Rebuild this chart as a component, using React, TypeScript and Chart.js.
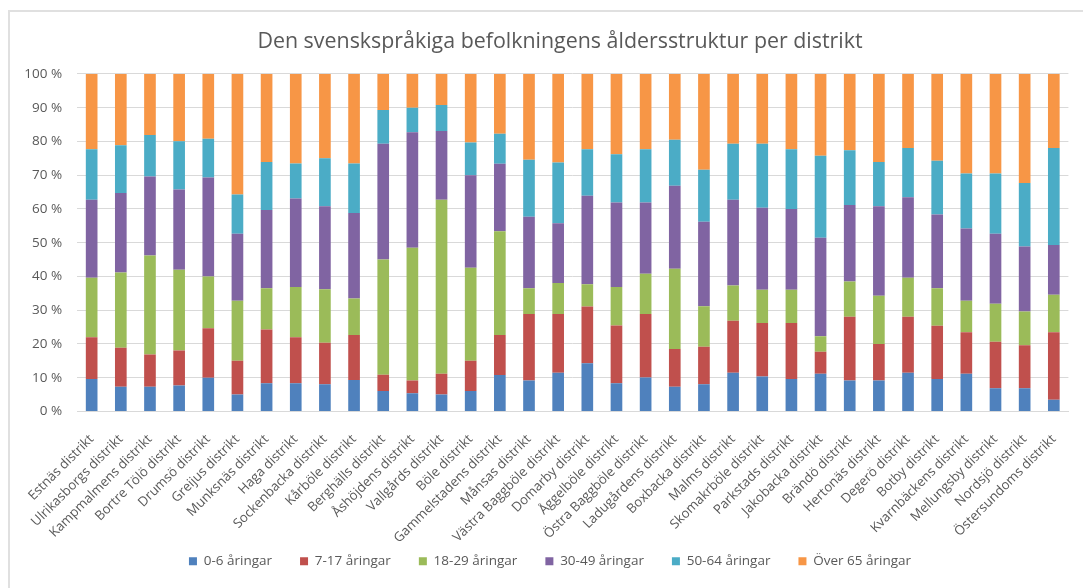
import React, { useEffect, useRef } from 'react';
import { Chart, registerables } from 'chart.js';

Chart.register(...registerables);

const districts = [
  'Estnäs distrikt', 'Ulrikasborgs distrikt', 'Kampmalmens distrikt', 'Bortre Tölö distrikt',
  'Drumsö distrikt', 'Greijus distrikt', 'Munksnäs distrikt', 'Haga distrikt',
  'Sockenbacka distrikt', 'Kårböle distrikt', 'Berghälls distrikt', 'Åshöjdens distrikt',
  'Vallgårds distrikt', 'Böle distrikt', 'Gammelstadens distrikt', 'Månsas distrikt',
  'Västra Baggböle distrikt', 'Domarby distrikt', 'Åggelböle distrikt', 'Östra Baggböle distrikt',
  'Ladugårdens distrikt', 'Boxbacka distrikt', 'Malms distrikt', 'Skomakrböle distrikt',
  'Parkstads distrikt', 'Jakobacka distrikt', 'Brändö distrikt', 'Hertonäs distrikt',
  'Degerö distrikt', 'Botby distrikt', 'Kvarnbäckens distrikt', 'Mellungsby distrikt',
  'Nordsjö distrikt', 'Östersundoms distrikt',
];

const ageGroups = ['0-6 åringar', '7-17 åringar', '18-29 åringar', '30-49 åringar', '50-64 åringar', 'Över 65 åringar'];

const age0to6 = [9.6, 7.3, 7.3, 7.7, 10.0, 5.0, 8.4, 8.4, 8.1, 9.3, 6.1, 5.4, 5.0, 6.1, 10.8, 9.2, 11.5, 14.3, 8.4, 10.1, 7.3, 8.1, 11.5, 10.4, 9.6, 11.2, 9.2, 9.2, 11.5, 9.6, 11.2, 6.9, 6.9, 3.5];
const age7to17 = [12.4, 11.6, 9.6, 10.4, 14.7, 10.0, 15.9, 13.6, 12.3, 13.4, 4.8, 3.8, 6.2, 8.9, 11.9, 19.7, 17.4, 16.8, 17.1, 18.8, 11.2, 11.1, 15.4, 15.8, 16.6, 6.5, 18.9, 10.8, 16.6, 15.8, 12.3, 13.8, 12.7, 20.0];
const age18to29 = [17.6, 22.3, 29.3, 23.9, 15.3, 17.8, 12.2, 14.9, 15.8, 10.8, 34.1, 39.3, 51.5, 27.6, 30.7, 7.6, 9.2, 6.6, 11.4, 11.9, 23.8, 12.0, 10.4, 9.9, 9.9, 4.6, 10.4, 14.3, 11.5, 11.1, 9.3, 11.2, 10.0, 11.1];
const age30to49 = [23.1, 23.5, 23.4, 23.8, 29.3, 19.9, 23.2, 26.2, 24.6, 25.3, 34.3, 34.2, 20.4, 27.4, 20.0, 21.2, 17.7, 26.2, 25.0, 21.1, 24.6, 25.0, 25.4, 24.3, 23.9, 29.2, 22.7, 26.5, 23.9, 21.9, 21.4, 20.8, 19.3, 14.7];
const age50to64 = [15.0, 14.2, 12.3, 14.3, 11.5, 11.6, 14.2, 10.4, 14.2, 14.7, 10.0, 7.3, 7.7, 9.7, 8.9, 16.9, 18.0, 13.8, 14.3, 15.8, 13.6, 15.4, 16.6, 18.9, 17.7, 24.3, 16.2, 13.1, 14.6, 15.9, 16.3, 17.8, 18.8, 28.8];
const age65plus = [22.3, 21.1, 18.1, 19.9, 19.2, 35.7, 26.1, 26.5, 25.0, 26.5, 10.7, 10.0, 9.2, 20.3, 17.7, 25.4, 26.2, 22.3, 23.8, 22.3, 19.5, 28.4, 20.7, 20.7, 22.3, 24.2, 22.6, 26.1, 21.9, 25.7, 29.5, 29.5, 32.3, 21.9];

const seriesValues = [age0to6, age7to17, age18to29, age30to49, age50to64, age65plus];
const seriesColors = ['#4F81BD', '#C0504D', '#9BBB59', '#8064A2', '#4BACC6', '#F79646'];

const titleText = 'Den svenskspråkiga befolkningens åldersstruktur per distrikt';
const FONT = "'Open Sans', sans-serif";
const TEXT_COLOR = '#595959';
const GRID_COLOR = '#d9d9d9';

const nudgeBoxes = {
  id: 'nudgeBoxes',
  afterLayout(chart: any) {
    const t = chart.titleBlock;
    if (t) {
      t.left += 13;
      t.right += 13;
    }
    const l = chart.legend;
    if (l) {
      l.left += 3;
      l.right += 3;
      l.top -= 15;
      l.bottom -= 15;
    }
  },
};

export default function App() {
  const canvasRef = useRef<HTMLCanvasElement>(null);

  useEffect(() => {
    document.documentElement.style.overflow = 'hidden';
    const canvas = canvasRef.current;
    if (!canvas) return;
    const chart = new Chart(canvas, {
      type: 'bar',
      data: {
        labels: districts,
        datasets: ageGroups.map((name, i) => ({
          label: name,
          data: seriesValues[i],
          backgroundColor: seriesColors[i],
          borderWidth: 0,
          categoryPercentage: 1,
          barPercentage: 0.4,
        })),
      },
      options: {
        responsive: false,
        animation: false,
        layout: { padding: { left: 0, right: 1, top: 0, bottom: 10 } },
        plugins: {
          title: {
            display: true,
            text: titleText,
            color: TEXT_COLOR,
            font: { family: FONT, size: 21.4, weight: 'normal' },
            padding: { top: 17, bottom: 19.3 },
          },
          legend: {
            position: 'bottom',
            labels: {
              boxWidth: 8,
              boxHeight: 8,
              padding: 28,
              color: TEXT_COLOR,
              font: { family: FONT, size: 13.5 },
            },
          },
          tooltip: { enabled: false },
        },
        scales: {
          x: {
            stacked: true,
            grid: { display: false, drawTicks: false },
            border: { display: true, color: GRID_COLOR, width: 1 },
            ticks: {
              color: TEXT_COLOR,
              font: { family: FONT, size: 13.2 },
              maxRotation: 45,
              minRotation: 45,
              autoSkip: false,
              padding: 20,
            },
            afterFit: (scale: any) => {
              scale.height = 130;
            },
          },
          y: {
            stacked: true,
            min: 0,
            max: 100,
            grid: { color: GRID_COLOR, drawTicks: false },
            border: { display: false },
            ticks: {
              stepSize: 10,
              color: TEXT_COLOR,
              font: { family: FONT, size: 13.5 },
              padding: 15,
              callback: (v: any) => `${v} %`,
            },
            afterFit: (scale: any) => {
              scale.width = 65;
            },
          },
        },
      },
      plugins: [nudgeBoxes],
    });
    return () => chart.destroy();
  }, []);

  return (
    <div
      style={{
        marginTop: 2,
        borderTop: '2px solid #e0e0e0',
        borderLeft: '2px solid #e0e0e0',
        width: 1075,
        height: 576,
        overflow: 'hidden',
      }}
    >
      <canvas ref={canvasRef} width={1075} height={591} style={{ display: 'block' }} />
    </div>
  );
}
